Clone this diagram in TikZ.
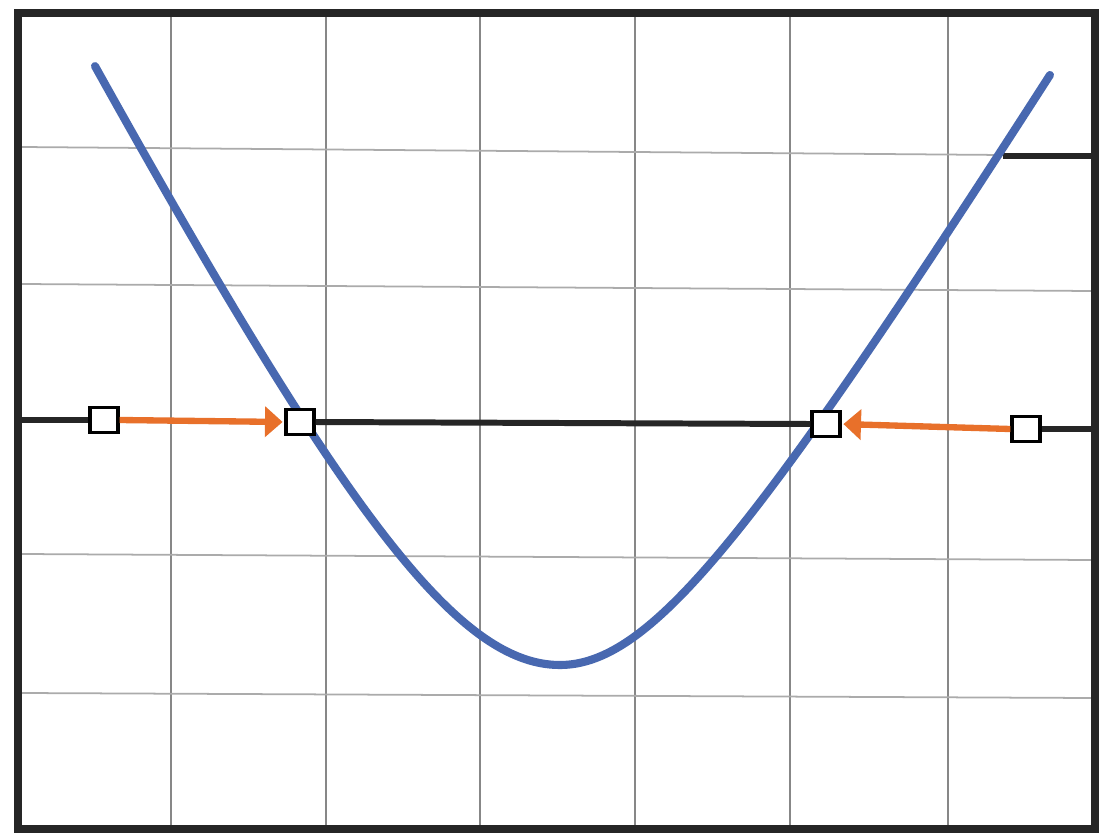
\documentclass[tikz,border=0pt]{standalone}
\usetikzlibrary{arrows.meta}
\definecolor{curveblue}{RGB}{72,104,176}
\definecolor{arroworange}{RGB}{232,112,42}
\definecolor{gridgray}{RGB}{150,150,150}
\tikzset{
  gridv/.style={draw=gridgray!90!black, line width=0.55pt},
  gridh/.style={draw=gridgray!80, line width=0.5pt},
  frameline/.style={draw=black!85, line width=2.4pt},
  blackline/.style={draw=black!85, line width=1.7pt},
  marker/.style={draw=black, fill=white, line width=0.9pt, minimum width=8pt, minimum height=7.3pt, inner sep=0pt},
  orangearrow/.style={draw=arroworange, line width=1.8pt, -{Triangle[length=5pt,width=8.5pt]}, shorten >=0.5pt},
  curve/.style={draw=curveblue, line width=2.3pt, line cap=round, line join=round}
}
\begin{document}
\begin{tikzpicture}[x=0.01cm,y=-0.01cm]
\useasboundingbox (0,0) rectangle (1099,836);
\fill[white] (0,0) rectangle (1099,836);
% vertical grid lines
\foreach \gx in {171,326,480,635,790,948}
  \draw[gridv] (\gx,17) -- (\gx,826);
% horizontal grid lines (slightly tilted like the scan)
\draw[gridh] (22,147) -- (1003,155);
\draw[gridh] (22,284) -- (1092,291);
\draw[gridh] (22,554) -- (1092,560);
\draw[gridh] (22,693) -- (1092,698);
% short black segment at right
\coordinate (s1) at (1003,156);
\coordinate (s2) at (1096,156);
\draw[blackline] (s1) -- (s2);
% frame
\draw[frameline] (18,13) rectangle (1095,829);
% curve (two hyperbolic arms meeting at the vertex)
\draw[curve] plot[domain=-4.65:0, samples=90, smooth] ({560+100*\x}, {665-195.6*(sqrt(\x*\x+4)-2)})
  -- plot[domain=0:4.9, samples=90, smooth] ({560+100*\x}, {665-162.8*(sqrt(\x*\x+2.25)-1.5)});
% markers
\node[marker] (b1) at (104,420) {};
\node[marker] (b2) at (300,422) {};
\node[marker] (b3) at (826,424) {};
\node[marker] (b4) at (1026,429) {};
\coordinate (L) at (18,420);
\coordinate (R) at (1095,429);
% black horizontal line
\draw[blackline] (L) -- (b1.west);
\draw[blackline] (b2.east) -- (b3.west);
\draw[blackline] (b4.east) -- (R);
% orange arrows
\draw[orangearrow] (b1.east) -- (b2.west);
\draw[orangearrow] (b4.west) -- (b3.east);
\end{tikzpicture}
\end{document}
